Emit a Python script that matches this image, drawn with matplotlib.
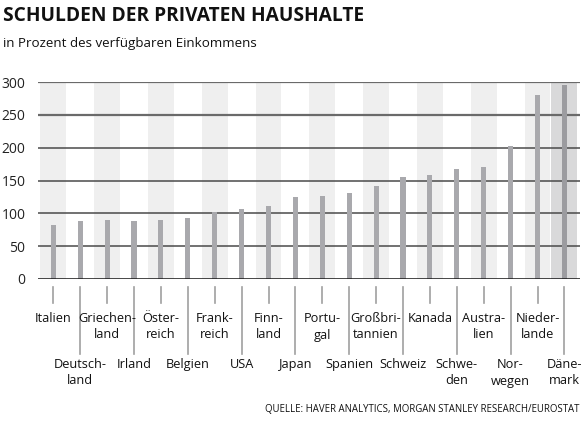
import matplotlib
matplotlib.use("Agg")
import matplotlib.pyplot as plt
from matplotlib.lines import Line2D

plt.rcParams['font.family'] = ['Open Sans', 'DejaVu Sans']

categories = ["Italien", "Deutsch-\nland", "Griechen-\nland", "Irland", "Öster-\nreich",
              "Belgien", "Frank-\nreich", "USA", "Finn-\nland", "Japan",
              "Portu-\ngal", "Spanien", "Großbri-\ntannien", "Schweiz", "Kanada",
              "Schwe-\nden", "Austra-\nlien", "Nor-\nwegen", "Nieder-\nlande", "Däne-\nmark"]
values = [82, 88, 90, 88, 90, 93, 102, 106, 111, 125,
          126, 131, 141, 155, 158, 167, 171, 202, 280, 296]
yticks = [0, 50, 100, 150, 200, 250, 300]

W, H = 585, 425
fig = plt.figure(figsize=(W / 100, H / 100), dpi=100)
ax = fig.add_axes([38 / W, 1 - 279 / H, 542 / W, 197 / H])

n = len(categories)
ax.set_xlim(-0.57, n - 1 + 0.58)
ax.set_ylim(0, 300)

# alternating background bands
for i in range(n):
    if i == n - 1:
        ax.axvspan(i - 0.48, i + 0.48, color="#d9d9da", zorder=0, lw=0)
    elif i % 2 == 0:
        ax.axvspan(i - 0.48, i + 0.48, color="#efefef", zorder=0, lw=0)

# gridlines
for t in yticks[1:]:
    lw = 1.6 if t >= 250 else 1.1
    col = "#6a6a6a" if t >= 250 else "#4a4a4a"
    ax.axhline(t, color=col, lw=lw, zorder=1)
ax.axhline(0, color="#111111", lw=1.8, zorder=3)

xs = list(range(n))
bar_colors = ["#a9a9ad"] * (n - 1) + ["#9c9ca0"]
ax.bar(xs, values, width=0.19, color=bar_colors, zorder=2)

for s in ax.spines.values():
    s.set_visible(False)
ax.set_xticks([])
ax.set_yticks(yticks)
ax.set_yticklabels([str(t) for t in yticks], fontsize=10, color="#222222")
ax.tick_params(axis="y", length=0, pad=9)

trans = ax.get_xaxis_transform()
def yfrac(py):
    return (279 - py) / 197.0

for i, lab in enumerate(categories):
    if i % 2 == 0:
        ax.add_line(Line2D([i, i], [yfrac(287), yfrac(303)], transform=trans,
                           color="#a0a0a0", lw=1.2, clip_on=False))
        ax.text(i, yfrac(312), lab, transform=trans, ha="center", va="top",
                fontsize=9.2, linespacing=1.35, color="#111111")
    else:
        ax.add_line(Line2D([i, i], [yfrac(287), yfrac(354)], transform=trans,
                           color="#a0a0a0", lw=1.2, clip_on=False))
        ax.text(i, yfrac(358), lab, transform=trans, ha="center", va="top",
                fontsize=9.2, linespacing=1.35, color="#111111")

fig.text(3 / W, 1 - 6 / H, "SCHULDEN DER PRIVATEN HAUSHALTE", fontsize=13.8,
         fontweight="bold", ha="left", va="top", color="#111111")
fig.text(3 / W, 1 - 37 / H, "in Prozent des verfügbaren Einkommens", fontsize=9.6,
         ha="left", va="top", color="#111111")
fig.text(579 / W, 1 - 404 / H,
         "QUELLE: HAVER ANALYTICS, MORGAN STANLEY RESEARCH/EUROSTAT",
         fontsize=6.9, ha="right", va="top", color="#111111")

fig.savefig("out.png", dpi=100, facecolor="white")
